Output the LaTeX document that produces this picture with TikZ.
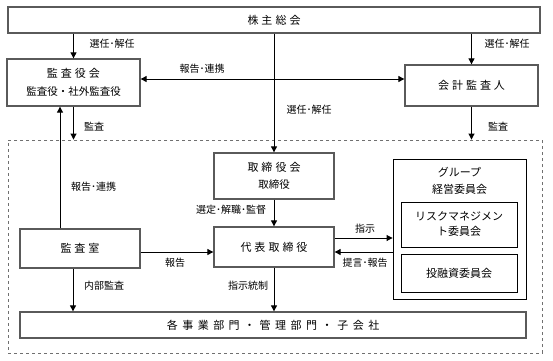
\documentclass[tikz,border=0pt]{standalone}
\usepackage{fontspec}
\setmainfont{Noto Sans CJK JP}
\usetikzlibrary{arrows.meta,calc}
\definecolor{boxgray}{HTML}{5A5A5A}
\definecolor{dashgray}{HTML}{707070}
\newcommand{\kgap}{\hspace{3pt}}
\newcommand{\wgap}{\hspace{4.5pt}}
\begin{document}
\begin{tikzpicture}[x=1pt,y=-1pt,
  box/.style={draw=boxgray, line width=1.3pt, fill=white, inner sep=0pt, font=\fontsize{11}{14}\selectfont, align=center},
  ibox/.style={draw=black, line width=0.9pt, inner sep=0pt, font=\fontsize{11}{15}\selectfont, align=center},
  arr/.style={draw=black, line width=0.9pt, -{Triangle[length=6pt,width=6pt]}},
  darr/.style={draw=black, line width=0.9pt, {Triangle[length=6pt,width=6pt]}-{Triangle[length=6pt,width=6pt]}},
  lbl/.style={font=\fontsize{10}{12}\selectfont, inner sep=0pt}
]
\useasboundingbox (0,0) rectangle (553,360);
\fill[white] (0,0) rectangle (553,360);

% dashed frame
\node[draw=dashgray, dashed, line width=0.9pt, minimum width=534pt, minimum height=213pt, inner sep=0pt] (inner) at (275,246.5) {};

% boxes
\node[box, minimum width=532pt, minimum height=26pt] (kabu) at (274,20) {株\kgap 主\kgap 総\kgap 会};
\node[box, minimum width=133pt, minimum height=47pt] (kyk) at (73.5,82.5) {監\kgap 査\kgap 役\kgap 会\\[4pt]{\fontsize{10.5}{12}\selectfont 監査役・社外監査役}};
\node[box, minimum width=133pt, minimum height=41pt] (kaikei) at (471.5,85.5) {会\kgap 計\kgap 監\kgap 査\kgap 人};
\node[box, minimum width=120pt, minimum height=46pt] (tori) at (274,176) {取\kgap 締\kgap 役\kgap 会\\[3pt]{\fontsize{10.5}{12}\selectfont 取締役}};
\node[box, minimum width=120pt, minimum height=40pt] (daihyo) at (274,247) {代\kgap 表\kgap 取\kgap 締\kgap 役};
\node[box, minimum width=120pt, minimum height=39pt] (shitsu) at (80,248.5) {監\kgap 査\kgap 室};
\node[box, minimum width=506pt, minimum height=26pt] (kaku) at (273,325) {各\wgap 事\wgap 業\wgap 部\wgap 門\wgap ・\wgap 管\wgap 理\wgap 部\wgap 門\wgap ・\wgap 子\wgap 会\wgap 社};

% group committee
\node[ibox, minimum width=133pt, minimum height=140pt] (grp) at (459.5,229) {};
\node[inner sep=0pt, font=\fontsize{11}{17}\selectfont, align=center] (grpt) at (459.5,180.5) {グループ\\経営委員会};
\node[ibox, minimum width=116pt, minimum height=45pt] (risk) at (459,224.5) {リスクマネジメン\\ト委員会};
\node[ibox, minimum width=116pt, minimum height=38pt] (toyu) at (459,273) {投融資委員会};

% connectors
\draw[arr] (kabu.south -| kyk.north) -- (kyk.north);
\draw[arr] (kabu.south -| kaikei.north) -- (kaikei.north);
\draw[darr] ([yshift=3.5pt]kyk.east) -- ([yshift=3.5pt]kyk.east -| kaikei.west);
\draw[arr] (kabu.south -| tori.north) -- (tori.north);
\draw[arr] (kyk.south) -- (kyk.south |- inner.north);
\draw[arr] (kaikei.south) -- (kaikei.south |- inner.north);
\draw[arr] ([xshift=-20pt]shitsu.north) -- ([xshift=-20pt]shitsu.north |- kyk.south);
\draw[arr] (tori.south) -- (daihyo.north);
\draw[arr] ([yshift=-3.5pt]shitsu.east) -- ([yshift=-3.5pt]shitsu.east -| daihyo.west);
\draw[arr] ([xshift=-7pt]shitsu.south) -- ([xshift=-7pt]shitsu.south |- kaku.north);
\draw[arr] (daihyo.south) -- (daihyo.south |- kaku.north);
\draw[arr] ([yshift=9pt]daihyo.east) -- ([yshift=9pt]daihyo.east -| grp.west);
\draw[arr] ([yshift=-5pt]daihyo.east -| grp.west) -- ([yshift=-5pt]daihyo.east);

% labels
\node[lbl] (l1) at (112,44) {選任･解任};
\node[lbl] (l2) at (507,44) {選任･解任};
\node[lbl] (l3) at (202,69) {報告･連携};
\node[lbl] (l4) at (309,110) {選任･解任};
\node[lbl] (l5) at (94,127) {監査};
\node[lbl] (l6) at (498,127) {監査};
\node[lbl] (l7) at (93.5,187) {報告･連携};
\node[lbl] (l8) at (231,210) {選定･解職･監督};
\node[lbl] (l9) at (175,263) {報告};
\node[lbl] (l10) at (104,286) {内部監査};
\node[lbl] (l11) at (248,286) {指示統制};
\node[lbl] (l12) at (365,229) {指示};
\node[lbl] (l13) at (365,263) {提言･報告};
\end{tikzpicture}
\end{document}
